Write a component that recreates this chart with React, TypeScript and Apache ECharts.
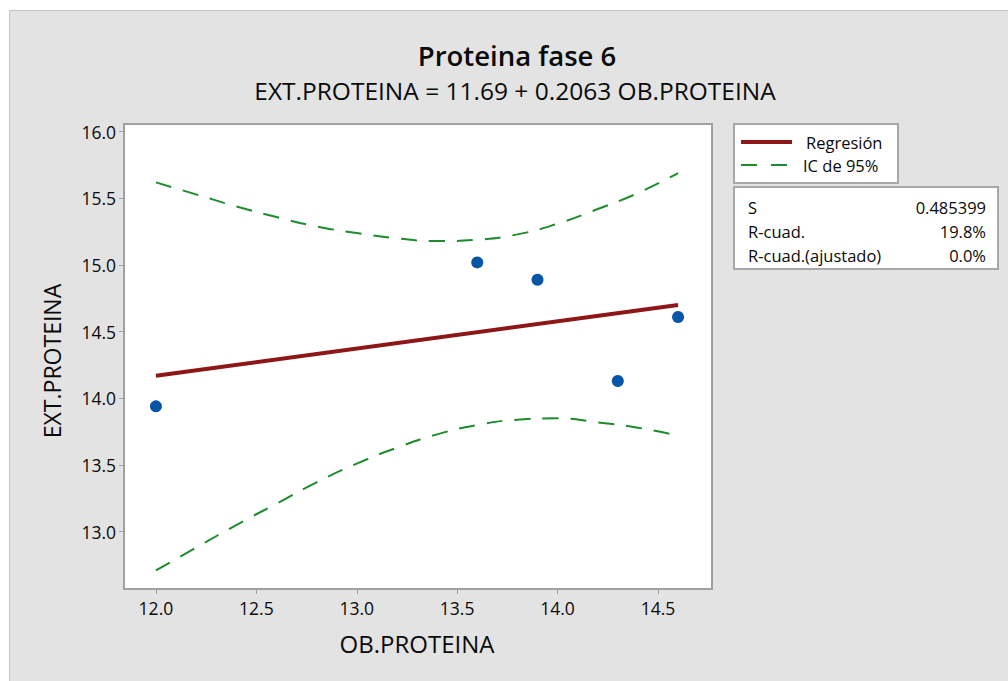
import React, { useEffect, useRef } from "react";
import * as echarts from "echarts";

const pointsX = [12.0, 13.6, 13.9, 14.3, 14.6];
const pointsY = [13.94, 15.02, 14.89, 14.13, 14.61];

const fitX = [12.0, 14.6];
const fitY = [14.17, 14.70];

const ciX = [12.0, 12.2, 12.4, 12.6, 12.8, 13.0, 13.2, 13.4, 13.6, 13.8, 14.0, 14.2, 14.4, 14.6];
const ciUpper = [15.62, 15.53, 15.44, 15.36, 15.29, 15.24, 15.20, 15.18, 15.19, 15.23, 15.31, 15.42, 15.54, 15.69];
const ciLower = [12.71, 12.88, 13.05, 13.21, 13.37, 13.51, 13.63, 13.73, 13.80, 13.84, 13.85, 13.82, 13.78, 13.72];

const xTicks = [12.0, 12.5, 13.0, 13.5, 14.0, 14.5];
const yTicks = [13.0, 13.5, 14.0, 14.5, 15.0, 15.5, 16.0];

const titleText = "Proteina fase 6";
const subtitleText = "EXT.PROTEINA = 11.69 + 0.2063 OB.PROTEINA";
const xName = "OB.PROTEINA";
const yName = "EXT.PROTEINA";
const legendLabels = ["Regresión", "IC de 95%"];
const statNames = ["S", "R-cuad.", "R-cuad.(ajustado)"];
const statValues = ["0.485399", "19.8%", "0.0%"];

const FONT = "'Open Sans', 'Noto Sans', sans-serif";
const RED = "#8e1616";
const GREEN = "#1c8c2c";
const BLUE = "#0755a6";
const INK = "#0a0a0a";

export default function App() {
  const ref = useRef<HTMLDivElement>(null);
  useEffect(() => {
    const chart = echarts.init(ref.current!, null, { renderer: "svg" });
    const zip = (xs: number[], ys: number[]) => xs.map((x, i) => [x, ys[i]]);
    const statRows: any[] = [];
    statNames.forEach((n, i) => {
      statRows.push({
        type: "text", x: 748, y: 207 + i * 24,
        style: { text: n, font: `16.5px ${FONT}`, fill: INK, verticalAlign: "middle" },
      });
      statRows.push({
        type: "text", x: 986, y: 207 + i * 24,
        style: { text: statValues[i], font: `16.5px ${FONT}`, fill: INK, align: "right", verticalAlign: "middle" },
      });
    });
    chart.setOption({
      animation: false,
      backgroundColor: "#ffffff",
      textStyle: { fontFamily: FONT },
      grid: {
        left: 124, top: 124, width: 588, height: 465,
        show: true, backgroundColor: "#ffffff", borderColor: "#a0a0a0", borderWidth: 2,
      },
      xAxis: {
        type: "value", min: 11.841, max: 14.769,
        splitLine: { show: false },
        axisLine: { show: false },
        axisTick: { show: true, length: 5, lineStyle: { color: "#a0a0a0", width: 1 }, customValues: xTicks },
        axisLabel: { color: INK, fontSize: 17.5, margin: 10, customValues: xTicks, formatter: (v: number) => v.toFixed(1) },
      },
      yAxis: {
        type: "value", min: 12.57, max: 16.058,
        splitLine: { show: false },
        axisLine: { show: false },
        axisTick: { show: true, length: 5, lineStyle: { color: "#a0a0a0", width: 1 }, customValues: yTicks },
        axisLabel: { color: INK, fontSize: 17.5, margin: 8, customValues: yTicks, formatter: (v: number) => v.toFixed(1) },
      },
      graphic: [
        { type: "rect", z: -10, shape: { x: 9.5, y: 10.5, width: 1000, height: 680 }, style: { fill: "#e3e3e3", stroke: "#c4c4c4", lineWidth: 1 } },
        { type: "text", x: 517, y: 55, style: { text: titleText, font: `600 27.5px ${FONT}`, fill: INK, align: "center", verticalAlign: "middle" } },
        { type: "text", x: 515, y: 90, style: { text: subtitleText, font: `24.5px ${FONT}`, fill: INK, align: "center", verticalAlign: "middle" } },
        { type: "text", x: 417, y: 643, style: { text: xName, font: `24px ${FONT}`, fill: INK, align: "center", verticalAlign: "middle" } },
        { type: "text", x: 52, y: 361, rotation: Math.PI / 2, style: { text: yName, font: `23px ${FONT}`, fill: INK, align: "center", verticalAlign: "middle" } },
        { type: "rect", shape: { x: 734, y: 124, width: 164, height: 59 }, style: { fill: "#fff", stroke: "#a8a8a8", lineWidth: 2 } },
        { type: "line", shape: { x1: 741, y1: 142, x2: 792, y2: 142 }, style: { stroke: RED, lineWidth: 4 } },
        { type: "text", x: 806, y: 142, style: { text: legendLabels[0], font: `16.5px ${FONT}`, fill: INK, verticalAlign: "middle" } },
        { type: "line", shape: { x1: 741, y1: 165, x2: 757, y2: 165 }, style: { stroke: GREEN, lineWidth: 2 } },
        { type: "line", shape: { x1: 771, y1: 165, x2: 787, y2: 165 }, style: { stroke: GREEN, lineWidth: 2 } },
        { type: "text", x: 803, y: 165, style: { text: legendLabels[1], font: `16.5px ${FONT}`, fill: INK, verticalAlign: "middle" } },
        { type: "rect", shape: { x: 734, y: 187, width: 264, height: 82 }, style: { fill: "#fff", stroke: "#a8a8a8", lineWidth: 2 } },
        ...statRows,
      ],
      series: [
        { name: "IC sup", type: "line", data: zip(ciX, ciUpper), smooth: true, symbol: "none", lineStyle: { color: GREEN, width: 2, type: [16, 12] } },
        { name: "IC inf", type: "line", data: zip(ciX, ciLower), smooth: true, symbol: "none", lineStyle: { color: GREEN, width: 2, type: [16, 12] } },
        { name: "Regresión", type: "line", data: zip(fitX, fitY), symbol: "none", lineStyle: { color: RED, width: 4 } },
        { name: "Datos", type: "scatter", data: zip(pointsX, pointsY), symbolSize: 12, itemStyle: { color: BLUE, opacity: 1 } },
      ],
    });
    return () => chart.dispose();
  }, []);
  return <div ref={ref} style={{ position: "absolute", left: 0, top: 0, width: 1008, height: 681 }} />;
}
